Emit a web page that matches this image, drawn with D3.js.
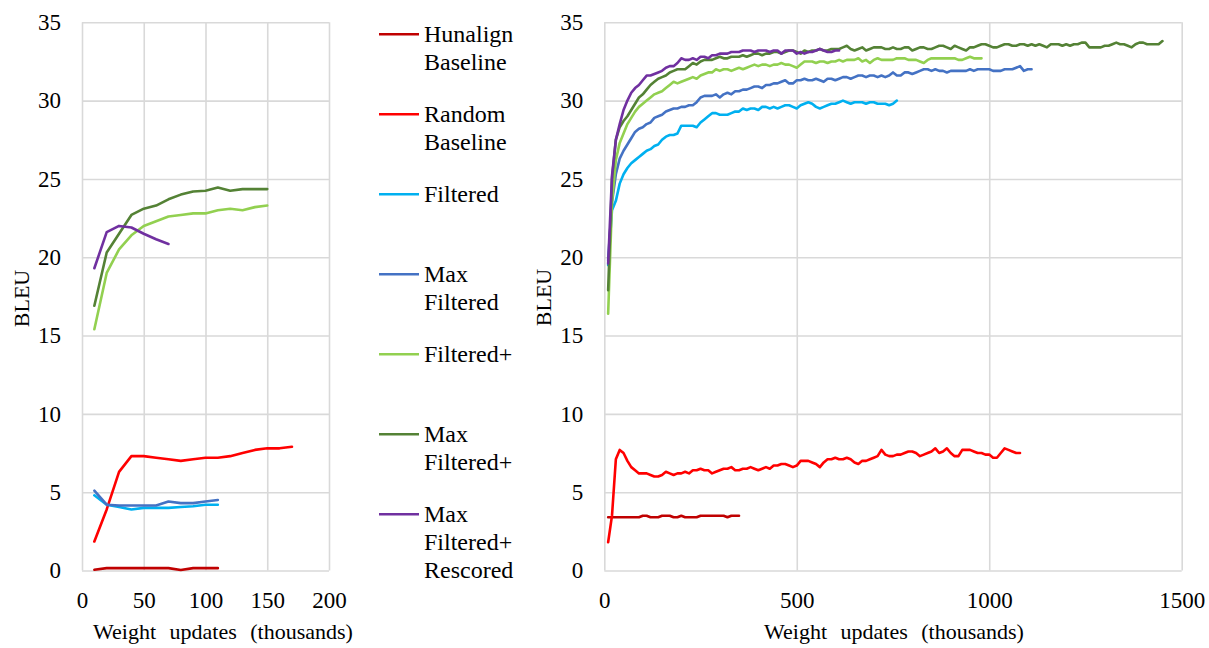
<!DOCTYPE html>
<html>
<head>
<meta charset="utf-8">
<script src="https://cdn.jsdelivr.net/npm/d3@7"></script>
<style>
  html, body { margin: 0; padding: 0; background: #fff; }
  svg { display: block; }
  text { font-family: 'Liberation Serif', serif; }
</style>
</head>
<body>
<div id="chart"></div>
<script>
// series names + colours (legend order = draw order)
const seriesNames = ["Hunalign\nBaseline", "Random\nBaseline", "Filtered", "Max\nFiltered",
                     "Filtered+", "Max\nFiltered+", "Max\nFiltered+\nRescored"];
const seriesColors = ["#C00000", "#FF0000", "#00B0F0", "#4472C4", "#92D050", "#548235", "#7030A0"];

// left chart: one value per 10k updates, starting at 10k
const hunalignL     = [0.05,0.15,0.15,0.15,0.15,0.15,0.15,0.03,0.15,0.15,0.15];
const randomL       = [1.85,3.9,6.3,7.3,7.3,7.2,7.1,7.0,7.1,7.2,7.2,7.3,7.5,7.7,7.8,7.8,7.9];
const filteredL     = [4.8,4.2,4.05,3.9,4.0,4.0,4.0,4.05,4.1,4.2,4.2];
const maxFilteredL  = [5.1,4.2,4.15,4.15,4.15,4.15,4.4,4.3,4.3,4.4,4.5];
const filteredPL    = [15.4,19.0,20.5,21.4,22.0,22.3,22.6,22.7,22.8,22.8,23.0,23.1,23.0,23.2,23.3];
const maxFilteredPL = [16.9,20.3,21.5,22.7,23.1,23.3,23.7,24.0,24.2,24.25,24.45,24.25,24.35,24.35,24.35];
const rescoredL     = [19.3,21.6,22.0,21.9,21.5,21.15,20.85];

// right chart: one value per 10k updates, starting at 10k
const hunalignR = [3.4,3.4,3.4,3.4,3.4,3.4,3.4,3.4,3.4,3.5,3.5,3.4,3.4,3.4,3.5,3.5,3.5,3.4,3.4,3.5,
  3.4,3.4,3.4,3.4,3.5,3.5,3.5,3.5,3.5,3.5,3.5,3.4,3.5,3.5,3.5];
const randomR = [1.8,3.5,7.1,7.7,7.5,7.0,6.6,6.4,6.2,6.2,6.2,6.1,6.0,6.0,6.1,6.3,6.2,6.1,6.2,6.2,
  6.3,6.2,6.4,6.4,6.5,6.4,6.4,6.2,6.3,6.4,6.5,6.5,6.6,6.4,6.4,6.5,6.5,6.6,6.5,6.4,
  6.5,6.6,6.5,6.7,6.7,6.8,6.8,6.7,6.6,6.7,7.0,7.0,7.0,6.9,6.8,6.6,6.9,7.1,7.1,7.2,
  7.1,7.1,7.2,7.1,6.9,6.8,7.0,7.0,7.1,7.2,7.3,7.7,7.4,7.3,7.3,7.4,7.4,7.5,7.6,7.6,
  7.5,7.3,7.4,7.5,7.6,7.8,7.5,7.6,7.8,7.5,7.3,7.3,7.7,7.7,7.7,7.6,7.5,7.5,7.4,7.4,
  7.2,7.2,7.5,7.8,7.7,7.6,7.5,7.5];
const filteredR = [19.5,23.0,23.6,24.7,25.3,25.7,26.0,26.2,26.4,26.6,26.8,26.9,27.1,27.2,27.5,27.7,27.8,27.8,27.9,28.4,
  28.4,28.4,28.4,28.3,28.6,28.8,29.0,29.2,29.2,29.1,29.1,29.1,29.2,29.3,29.3,29.5,29.4,29.5,29.5,29.4,
  29.6,29.6,29.5,29.6,29.5,29.6,29.7,29.7,29.6,29.5,29.7,29.8,29.9,29.8,29.6,29.5,29.6,29.7,29.8,29.8,
  29.9,30.0,29.9,29.8,29.9,29.9,29.9,29.8,29.9,29.9,29.8,29.8,29.8,29.7,29.8,30.0];
const maxFilteredR = [19.8,23.5,25.3,26.3,26.8,27.2,27.6,28.0,28.2,28.3,28.5,28.6,28.9,29.0,29.1,29.3,29.4,29.5,29.5,29.6,
  29.6,29.7,29.7,29.9,30.2,30.3,30.3,30.3,30.4,30.2,30.4,30.5,30.4,30.6,30.6,30.7,30.7,30.8,30.9,30.9,
  30.8,31.0,31.0,31.1,31.1,31.2,31.3,31.1,31.1,31.3,31.3,31.4,31.3,31.3,31.4,31.3,31.2,31.4,31.4,31.3,
  31.4,31.5,31.5,31.4,31.5,31.6,31.6,31.5,31.6,31.6,31.5,31.6,31.5,31.6,31.8,31.6,31.6,31.8,31.8,31.7,
  31.8,31.9,32.0,32.0,31.9,32.0,31.9,31.9,31.8,31.9,31.9,31.9,31.9,31.9,32.0,31.9,32.0,32.0,32.0,32.0,
  31.9,31.9,31.9,32.0,32.0,32.0,32.1,32.2,31.9,32.0,32.0];
const filteredPR = [16.4,23.5,26.2,27.3,27.9,28.5,28.9,29.3,29.6,29.8,30.0,30.2,30.4,30.5,30.6,30.8,31.0,31.2,31.1,31.2,
  31.3,31.4,31.5,31.4,31.6,31.7,31.8,31.8,32.0,31.9,32.0,32.0,31.9,32.0,32.1,32.0,32.1,32.2,32.3,32.2,
  32.3,32.3,32.2,32.3,32.3,32.4,32.3,32.3,32.2,32.1,32.3,32.5,32.5,32.5,32.4,32.5,32.5,32.4,32.5,32.5,
  32.6,32.5,32.6,32.6,32.6,32.7,32.5,32.6,32.4,32.6,32.7,32.6,32.6,32.6,32.6,32.7,32.7,32.7,32.6,32.6,
  32.6,32.5,32.4,32.6,32.7,32.7,32.7,32.7,32.7,32.7,32.7,32.6,32.6,32.7,32.8,32.7,32.7,32.7];
const maxFilteredPR = [17.9,25.0,27.5,28.3,28.7,29.0,29.4,29.8,30.2,30.4,30.7,31.0,31.2,31.4,31.5,31.6,31.8,31.9,32.0,32.0,
  32.0,32.2,32.4,32.3,32.5,32.6,32.6,32.6,32.7,32.8,32.7,32.7,32.8,32.8,32.8,32.9,32.8,32.9,33.0,33.0,
  32.9,33.0,33.0,33.1,33.1,33.0,33.1,33.2,33.2,33.1,33.0,33.2,33.1,33.2,33.2,33.3,33.2,33.2,33.3,33.3,
  33.3,33.4,33.5,33.3,33.2,33.3,33.4,33.2,33.3,33.4,33.4,33.4,33.3,33.3,33.4,33.3,33.3,33.4,33.4,33.2,
  33.3,33.4,33.4,33.3,33.3,33.4,33.5,33.5,33.4,33.3,33.5,33.4,33.3,33.2,33.4,33.4,33.5,33.6,33.6,33.5,
  33.4,33.4,33.5,33.6,33.6,33.5,33.5,33.6,33.6,33.5,33.6,33.5,33.6,33.5,33.4,33.6,33.6,33.6,33.5,33.6,
  33.5,33.6,33.6,33.7,33.7,33.4,33.4,33.4,33.4,33.5,33.5,33.6,33.7,33.6,33.6,33.5,33.4,33.6,33.7,33.7,
  33.6,33.6,33.6,33.6,33.8];
const rescoredR = [19.6,25.2,27.5,28.5,29.4,30.0,30.5,30.8,31.0,31.3,31.6,31.6,31.7,31.8,31.9,32.1,32.2,32.2,32.4,32.7,
  32.6,32.6,32.7,32.6,32.8,32.8,32.7,32.9,32.9,33.0,33.0,33.0,33.1,33.1,33.1,33.2,33.2,33.2,33.1,33.2,
  33.2,33.2,33.1,33.2,33.2,33.0,33.2,33.2,33.2,33.0,33.1,33.0,33.1,33.1,33.2,33.3,33.2,33.1,33.1,33.2,33.2];

const leftSeries  = [hunalignL, randomL, filteredL, maxFilteredL, filteredPL, maxFilteredPL, rescoredL];
const rightSeries = [hunalignR, randomR, filteredR, maxFilteredR, filteredPR, maxFilteredPR, rescoredR];
const xStep = 10;

const yTicks = [0, 5, 10, 15, 20, 25, 30, 35];
const leftXTicks  = [0, 50, 100, 150, 200];
const rightXTicks = [0, 500, 1000, 1500];

const W = 1209, H = 648;
const FONT = "'Liberation Serif', serif";
const svg = d3.select("#chart").append("svg")
  .attr("width", W).attr("height", H)
  .attr("font-family", FONT);

const plotTop = 22.3, plotBottom = 570.5;
const gridColor = "#D9D9D9";

function drawPanel(opts) {
  const x = d3.scaleLinear().domain(opts.xDomain).range([opts.left, opts.right]);
  const y = d3.scaleLinear().domain([0, 35]).range([plotBottom, plotTop]);
  const g = svg.append("g");

  // y grid + labels
  const ya = g.append("g").attr("transform", `translate(${opts.left},0)`)
    .call(d3.axisLeft(y).tickValues(yTicks).tickSizeInner(-(opts.right - opts.left))
      .tickSizeOuter(0).tickPadding(21));
  // x grid + labels
  const xa = g.append("g").attr("transform", `translate(0,${plotBottom})`)
    .call(d3.axisBottom(x).tickValues(opts.xTicks).tickSizeInner(-(plotBottom - plotTop))
      .tickSizeOuter(0).tickPadding(21).tickFormat(d3.format("d")));
  [ya, xa].forEach(a => {
    a.attr("font-family", FONT).attr("font-size", 23);
    a.select(".domain").remove();
    a.selectAll("line").attr("stroke", gridColor).attr("stroke-width", 1.6);
    a.selectAll("text").attr("fill", "#000").attr("font-family", FONT);
  });

  const line = d3.line().x((d, i) => x(xStep * (i + 1))).y(d => y(d));
  g.selectAll("path.series").data(opts.series).join("path")
    .attr("class", "series")
    .attr("d", line)
    .attr("fill", "none")
    .attr("stroke", (d, i) => seriesColors[i])
    .attr("stroke-width", 2.6)
    .attr("stroke-linejoin", "round")
    .attr("stroke-linecap", "round");

  // axis titles
  g.append("text")
    .attr("x", opts.titleX).attr("y", 639)
    .attr("text-anchor", "middle")
    .attr("font-family", FONT).attr("font-size", 22)
    .style("word-spacing", "8px")
    .text("Weight updates (thousands)");
  g.append("text")
    .attr("transform", `translate(${opts.bleuX},${opts.bleuY}) rotate(-90)`)
    .attr("text-anchor", "middle")
    .attr("font-family", FONT).attr("font-size", 22)
    .text("BLEU");
}

drawPanel({ left: 82, right: 329, xDomain: [0, 200], xTicks: leftXTicks,
  series: leftSeries, titleX: 223, bleuX: 29, bleuY: 298.5 });
drawPanel({ left: 604.3, right: 1181.7, xDomain: [0, 1500], xTicks: rightXTicks,
  series: rightSeries, titleX: 894, bleuX: 551, bleuY: 297.5 });

// legend between the panels
const legend = svg.append("g");
const item = legend.selectAll("g").data(seriesNames).join("g")
  .attr("transform", (d, i) => `translate(379,${34.3 + i * 80})`);
item.append("line")
  .attr("x1", 0).attr("x2", 40).attr("y1", 0).attr("y2", 0)
  .attr("stroke", (d, i) => seriesColors[i]).attr("stroke-width", 2.6);
item.append("text")
  .attr("x", 45).attr("y", 8)
  .attr("font-family", FONT).attr("font-size", 24)
  .selectAll("tspan").data(d => d.split("\n")).join("tspan")
    .attr("x", 45).attr("dy", (d, i) => i === 0 ? 0 : 28)
    .text(d => d);
</script>
</body>
</html>
